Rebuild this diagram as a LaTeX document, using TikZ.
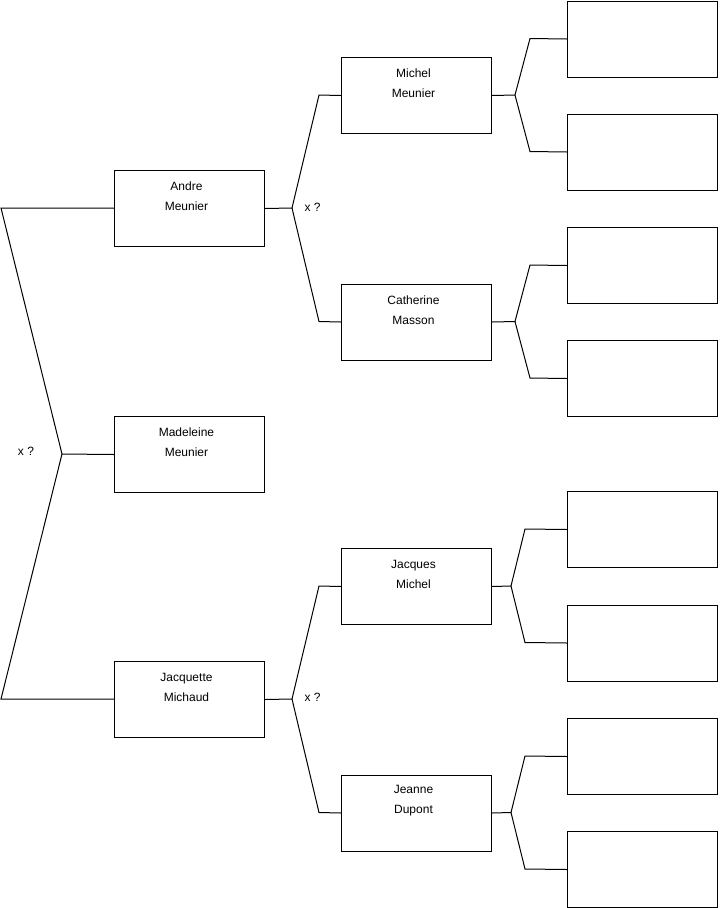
\documentclass[tikz,border=0pt]{standalone}
\usepackage{fontspec}
\setmainfont{Liberation Sans}
\begin{document}
\begin{tikzpicture}[x=0.75pt,y=-0.75pt, line width=0.75pt,
  pbox/.style={draw, rectangle, minimum width=112.5pt, minimum height=57pt, inner sep=0pt, anchor=north west},
  pname/.style={font=\fontsize{9}{15}\selectfont, align=center, inner sep=0pt},
  lbl/.style={font=\fontsize{9}{11}\selectfont, inner sep=0pt}]
\useasboundingbox (0,0) rectangle (719,908);

% generation 1
\node[pbox] (andre) at (114,170) {};
\node[pbox] (madeleine) at (114,416) {};
\node[pbox] (jacquette) at (114,661) {};
\node[pname] (tandre) at (186.5,196.5) {Andre\\Meunier};
\node[pname] (tmadeleine) at (186.5,442.5) {Madeleine\\Meunier};
\node[pname] (tjacquette) at (186.5,687.5) {Jacquette\\Michaud};

% generation 2
\node[pbox] (michel) at (341,57) {};
\node[pbox] (catherine) at (341,283.5) {};
\node[pbox] (jacques) at (341,548) {};
\node[pbox] (jeanne) at (341,774.5) {};
\node[pname] (tmichel) at (413.5,83.5) {Michel\\Meunier};
\node[pname] (tcatherine) at (413.5,310) {Catherine\\Masson};
\node[pname] (tjacques) at (413.5,574.5) {Jacques\\Michel};
\node[pname] (tjeanne) at (413.5,801) {Jeanne\\Dupont};

% generation 3 (empty)
\node[pbox] (r1) at (567,0.5) {};
\node[pbox] (r2) at (567,113.5) {};
\node[pbox] (r3) at (567,227) {};
\node[pbox] (r4) at (567,340) {};
\node[pbox] (r5) at (567,491) {};
\node[pbox] (r6) at (567,604.5) {};
\node[pbox] (r7) at (567,718) {};
\node[pbox] (r8) at (567,831) {};

% left bracket
\coordinate (j0) at (62,454);
\coordinate (c0a) at (1,208);
\coordinate (c0b) at (1,699);
\draw (madeleine.west) -- (j0) -- (c0a) -- (andre.west |- c0a);
\draw (j0) -- (c0b) -- (jacquette.west |- c0b);
\node[lbl] (x0) at (26,451) {x ?};

% Andre bracket
\coordinate (ja) at (292,208);
\coordinate (ca1) at (319,95);
\coordinate (ca2) at (319,321.5);
\draw (andre.east) -- (ja) -- (ca1) -- (michel.west);
\draw (ja) -- (ca2) -- (catherine.west);
\node[lbl, anchor=west] (xa) at (304,207.5) {x ?};

% Jacquette bracket
\coordinate (jb) at (292,699);
\coordinate (cb1) at (319,586);
\coordinate (cb2) at (319,812.5);
\draw (jacquette.east) -- (jb) -- (cb1) -- (jacques.west);
\draw (jb) -- (cb2) -- (jeanne.west);
\node[lbl, anchor=west] (xb) at (304,697.5) {x ?};

% Michel
\coordinate (jm) at (515,95);
\draw (michel.east) -- (jm) -- (530,38.5) -- (r1.west);
\draw (jm) -- (530,151.5) -- (r2.west);
% Catherine
\coordinate (jc) at (515,321.5);
\draw (catherine.east) -- (jc) -- (530,265) -- (r3.west);
\draw (jc) -- (530,378) -- (r4.west);
% Jacques
\coordinate (jq) at (511,586);
\draw (jacques.east) -- (jq) -- (525,529) -- (r5.west);
\draw (jq) -- (525,642.5) -- (r6.west);
% Jeanne
\coordinate (jd) at (511,812.5);
\draw (jeanne.east) -- (jd) -- (525,756) -- (r7.west);
\draw (jd) -- (525,869) -- (r8.west);
\end{tikzpicture}
\end{document}
